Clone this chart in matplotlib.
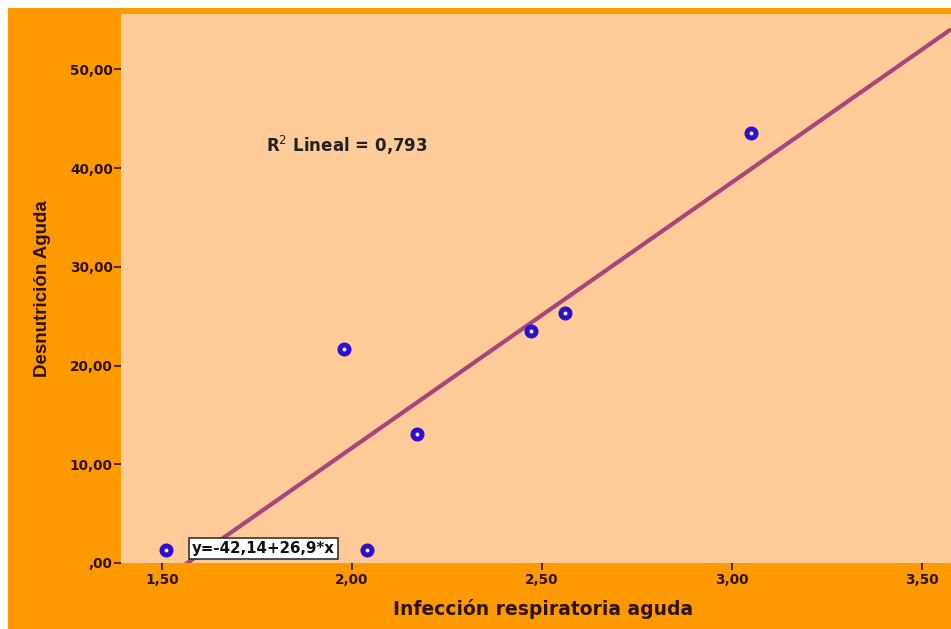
import numpy as np
import matplotlib
matplotlib.use('Agg')
import matplotlib.pyplot as plt
from matplotlib.patches import Rectangle

# Data
infeccion = [1.51, 1.98, 2.04, 2.17, 2.47, 2.56, 3.05]
desnutricion = [1.3, 21.7, 1.3, 13.1, 23.5, 25.3, 43.5]
intercept, slope = -42.14, 26.9
r2 = 0.793
xticks = [1.5, 2.0, 2.5, 3.0, 3.5]
yticks = [0, 10, 20, 30, 40, 50]

ORANGE = '#FF9900'
PEACH = '#FFCC99'
TEXT = '#2E1205'

fig = plt.figure(figsize=(9.51, 6.29), dpi=100, facecolor='white')
fig.patches.append(Rectangle((8 / 951, 0), 1, 1 - 8 / 629, transform=fig.transFigure,
                             facecolor=ORANGE, edgecolor='none', zorder=-10))

ax = fig.add_axes([121 / 951, 66 / 629, 1 - 121 / 951, 549 / 629])
ax.set_facecolor(PEACH)
for s in ax.spines.values():
    s.set_visible(False)

ax.set_xlim(1.392, 3.576)
ax.set_ylim(0, 55.6)

# fit line across the whole plot
xl = np.array(ax.get_xlim())
ax.plot(xl, intercept + slope * xl, color='#A8457A', lw=3.0, solid_capstyle='butt', zorder=2)

ax.plot(infeccion, desnutricion, 'o', ms=6.5, mfc='#F4F0FF', mec='#2C10CC', mew=3.6,
        ls='none', zorder=3)

ax.set_xticks(xticks)
ax.set_xticklabels([f'{v:.2f}'.replace('.', ',') for v in xticks])
ax.set_yticks(yticks)
ax.set_yticklabels([',00' if v == 0 else f'{v:.2f}'.replace('.', ',') for v in yticks])
ax.tick_params(axis='both', colors=TEXT, labelsize=9.8, length=5, width=1.2)
for lab in ax.get_xticklabels() + ax.get_yticklabels():
    lab.set_fontweight('bold')
ax.tick_params(axis='x', pad=2)
ax.tick_params(axis='y', pad=1)

ax.set_xlabel('Infección respiratoria aguda', fontsize=13.5, fontweight='bold', color=TEXT)
ax.set_ylabel('Desnutrición Aguda', fontsize=13.5, fontweight='bold', color=TEXT,
              family=['Liberation Sans', 'DejaVu Sans'])
ax.xaxis.set_label_coords((543 - 121) / 830, -0.066)
ax.yaxis.set_label_coords(-70 / 830, 0.5)

ax.text(1.774, 42.3, r'R$^2$ Lineal = 0,793', fontsize=12, fontweight='bold', color='#222222',
        va='center', ha='left')
ax.text(1.578, 1.5, 'y=-42,14+26,9*x', fontsize=10.8, fontweight='bold', color='#111111',
        va='center', ha='left', zorder=4,
        bbox=dict(boxstyle='square,pad=0.2', facecolor='white', edgecolor='#333333', lw=1.2))

fig.savefig('out.png', dpi=100, facecolor=fig.get_facecolor())
